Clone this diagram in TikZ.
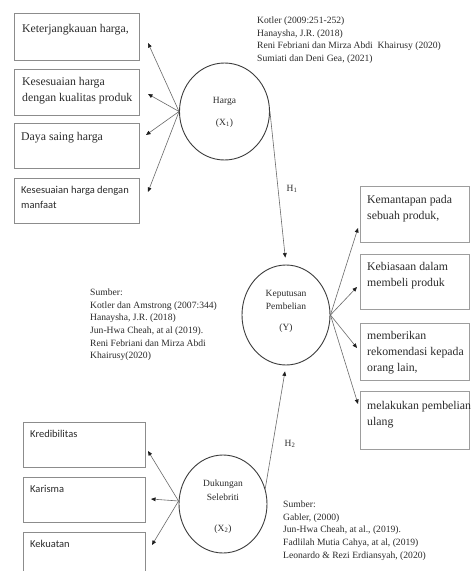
\documentclass[tikz,border=0pt]{standalone}
\usepackage{fontspec}
\setmainfont{Liberation Serif}
\newfontfamily\carlito{Carlito}
\usetikzlibrary{shapes.geometric,arrows.meta}
\definecolor{txtc}{HTML}{2B2B2B}
\definecolor{boxc}{HTML}{8C8C8C}
\definecolor{circc}{HTML}{3C3C3C}
\definecolor{linec}{HTML}{6A6A6A}
\definecolor{tipc}{HTML}{1E1E1E}
\tikzset{
  boxnode/.style={draw=boxc, line width=0.9pt, rectangle, inner sep=0pt},
  ell/.style={draw=circc, line width=0.9pt, ellipse, inner sep=0pt},
  arr/.style={draw=linec, line width=0.6pt, -{Triangle[length=4.5pt,width=3.8pt,color=tipc]}},
  btxt/.style={anchor=north west, inner sep=0pt, align=left, text=txtc, font=\fontsize{11.8}{16}\selectfont},
  stxt/.style={anchor=north west, inner sep=0pt, align=left, text=txtc, font=\carlito\fontsize{10.5}{15}\selectfont},
  ctxt/.style={anchor=base, inner sep=0pt, text=txtc, font=\fontsize{9.5}{11}\selectfont},
  rtxt/.style={anchor=north west, inner sep=0pt, align=left, text=txtc, font=\fontsize{9.6}{12.7}\selectfont},
}
\begin{document}
\begin{tikzpicture}[x=1pt,y=-1pt]
\clip (0,0) rectangle (471,571);
\fill[white] (0,0) rectangle (471,571);
% Harga indicator boxes
\node[boxnode, minimum width=125pt, minimum height=47pt] (hb1) at (76.5,36.5) {};
\node[boxnode, minimum width=125pt, minimum height=46pt] (hb2) at (76.5,92) {};
\node[boxnode, minimum width=125pt, minimum height=45pt] (hb3) at (76.5,145.5) {};
\node[boxnode, minimum width=125pt, minimum height=45pt] (hb4) at (76.5,200.5) {};
\node[btxt] (t1) at (22,24) {Keterjangkauan harga,};
\node[btxt] (t2) at (22,77) {Kesesuaian harga\\dengan kualitas produk};
\node[btxt] (t3) at (21,132) {Daya saing harga};
\node[stxt] (t4) at (21,186) {Kesesuaian harga dengan\\manfaat};
% Keputusan indicator boxes
\node[boxnode, draw=boxc!85, minimum width=109.5pt, minimum height=56pt] (rb1) at (414.75,214) {};
\node[boxnode, draw=boxc!85, minimum width=109.5pt, minimum height=55pt] (rb2) at (414.75,281.5) {};
\node[boxnode, draw=boxc!85, minimum width=109.5pt, minimum height=57pt] (rb3) at (414.75,351.5) {};
\node[boxnode, draw=boxc!85, minimum width=109.5pt, minimum height=58pt] (rb4) at (414.75,420) {};
\node[btxt] (r1) at (367,195) {Kemantapan pada\\sebuah produk,};
\node[btxt] (r2) at (367,262) {Kebiasaan dalam\\membeli produk};
\node[btxt] (r3) at (367,331) {memberikan\\rekomendasi kepada\\orang lain,};
\node[btxt] (r4) at (367,401) {melakukan pembelian\\ulang};
% Dukungan indicator boxes
\node[boxnode, minimum width=122pt, minimum height=45pt] (db1) at (84,444.5) {};
\node[boxnode, minimum width=122pt, minimum height=45pt] (db2) at (84,499.5) {};
\node[boxnode, minimum width=122pt, minimum height=50pt] (db3) at (84,557) {};
\node[stxt] (d1) at (30,430) {Kredibilitas};
\node[stxt] (d2) at (30,485) {Karisma};
\node[stxt] (d3) at (30,540) {Kekuatan};
% Latent variables
\node[ell, minimum width=90pt, minimum height=97pt] (harga) at (224.5,111.5) {};
\node[ell, minimum width=88pt, minimum height=100pt] (kep) at (286,315) {};
\node[ell, minimum width=88pt, minimum height=98pt] (duk) at (223,504) {};
\node[ctxt] (hl1) at (224.5,103) {Harga};
\node[ctxt] (hl2) at (224.5,125) {(X\textsubscript{1})};
\node[ctxt] (kl1) at (286,296) {Keputusan};
\node[ctxt] (kl2) at (286,309) {Pembelian};
\node[ctxt] (kl3) at (286,330) {(Y)};
\node[ctxt] (dl1) at (223,486) {Dukungan};
\node[ctxt] (dl2) at (223,500) {Selebriti};
\node[ctxt] (dl3) at (223,531) {(X\textsubscript{2})};
% arrow tips
\coordinate (ah1) at (148,43);
\coordinate (ah2) at (148,94);
\coordinate (ah3) at (146,135);
\coordinate (ah4) at (148,192);
\coordinate (ak1) at (358,228);
\coordinate (ak2) at (357,287);
\coordinate (ak3) at (357,348);
\coordinate (ak4) at (358,404);
\coordinate (ad1) at (148,451);
\coordinate (ad2) at (151,499);
\coordinate (ad3) at (152,545);
\foreach \i in {1,2,3,4} \draw[arr] (harga.west) -- (ah\i);
\foreach \i in {1,2,3,4} \draw[arr] (kep.east) -- (ak\i);
\foreach \i in {1,2,3} \draw[arr] ([yshift=3pt]duk.west) -- (ad\i);
\draw[arr, shorten >=7pt] (harga.east) -- (kep.north);
\draw[arr, shorten >=6pt] (duk.20) -- (kep.south);
\node[ctxt] (h1) at (292,191) {H\textsubscript{1}};
\node[ctxt] (h2) at (290,446) {H\textsubscript{2}};
% sources
\node[rtxt] (src1) at (257,16.5) {Kotler (2009:251-252)\\Hanaysha, J.R. (2018)\\Reni Febriani dan Mirza Abdi\ \ Khairusy (2020)\\Sumiati dan Deni Gea, (2021)};
\node[rtxt] (src2) at (90,288.5) {Sumber:\\Kotler dan Amstrong (2007:344)\\Hanaysha, J.R. (2018)\\Jun-Hwa Cheah, at al (2019).\\Reni Febriani dan Mirza Abdi\\Khairusy(2020)};
\node[rtxt] (src3) at (283,500.5) {Sumber:\\Gabler, (2000)\\Jun-Hwa Cheah, at al., (2019).\\Fadlilah Mutia Cahya, at al, (2019)\\Leonardo \& Rezi Erdiansyah, (2020)};
\end{tikzpicture}
\end{document}
